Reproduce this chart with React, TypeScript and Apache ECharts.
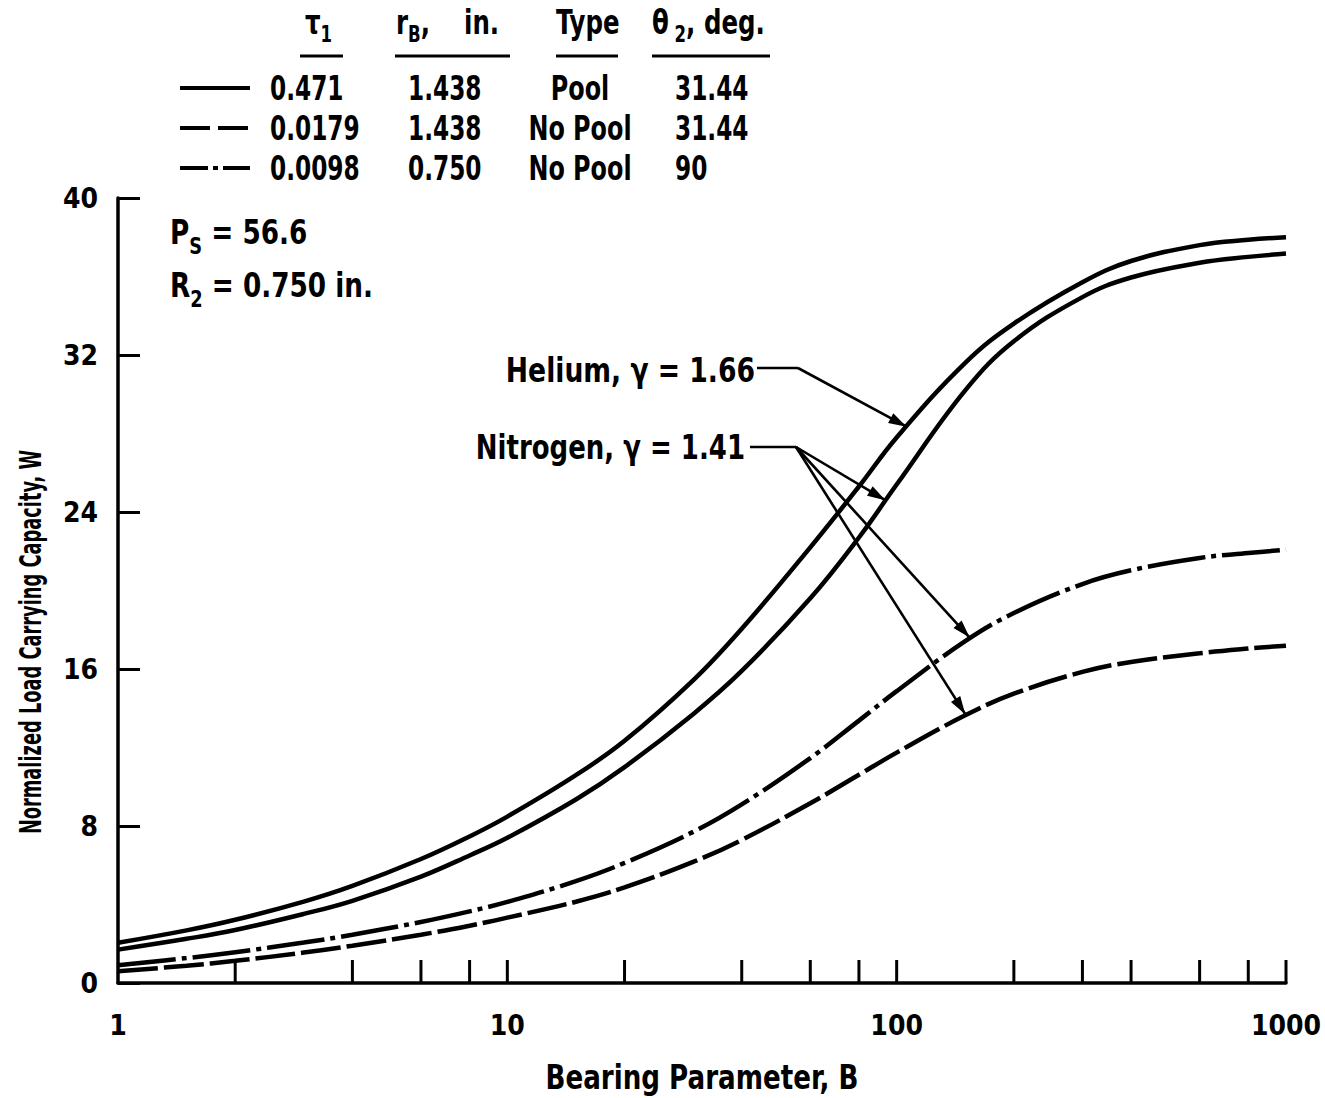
import React, { useEffect, useRef } from "react";
import * as echarts from "echarts";

// ---------- data ----------
const bValues = [1, 1.5, 2, 3, 4, 6, 8, 10, 15, 20, 30, 40, 60, 80, 100, 150, 200, 300, 400, 600, 800, 1000];
const heliumPool = [2.05, 2.68, 3.22, 4.15, 4.95, 6.32, 7.47, 8.48, 10.59, 12.34, 15.42, 18.05, 22.2, 25.3, 27.8, 31.6, 33.6, 35.71, 36.79, 37.6, 37.87, 38.0];
const nitrogenPool = [1.7, 2.25, 2.7, 3.52, 4.19, 5.42, 6.5, 7.4, 9.35, 11.0, 13.7, 15.9, 19.6, 22.7, 25.4, 30.2, 32.7, 34.95, 35.95, 36.7, 37.0, 37.17];
const nitrogenNoPool90 = [0.9, 1.27, 1.57, 2.06, 2.46, 3.11, 3.65, 4.13, 5.19, 6.12, 7.7, 9.1, 11.46, 13.37, 14.87, 17.42, 18.85, 20.33, 21.03, 21.66, 21.91, 22.08];
const nitrogenNoPool31 = [0.6, 0.88, 1.13, 1.55, 1.9, 2.46, 2.92, 3.33, 4.14, 4.87, 6.17, 7.29, 9.16, 10.61, 11.74, 13.64, 14.74, 15.85, 16.36, 16.8, 17.04, 17.19];

const xTickValues = [2, 4, 6, 8, 10, 20, 40, 60, 80, 100, 200, 300, 400, 600, 800, 1000];
const yTicks = { min: 0, max: 40, interval: 8 };

// legend table
const legendTau = ["0.471", "0.0179", "0.0098"];
const legendRB = ["1.438", "1.438", "0.750"];
const legendType = ["Pool", "No Pool", "No Pool"];
const legendTheta = ["31.44", "31.44", "90"];

// annotation anchors (data coords on curves)
const heliumTip = [106, 28.35];
const nitrogenTips = [
  [93.5, 24.6],
  [154, 17.6],
  [150, 13.7],
];

const FONT = "'DejaVu Sans Condensed', 'DejaVu Sans', sans-serif";
const DASHED = [40, 6];
const DASHDOT = [58, 6, 5, 6];

function zip(xs: number[], ys: number[]) {
  return xs.map((x, i) => [x, ys[i]]);
}

let measureCtx: CanvasRenderingContext2D | null = null;
function measure(text: string, size: number) {
  if (!measureCtx) measureCtx = document.createElement("canvas").getContext("2d");
  measureCtx!.font = `bold ${size}px ${FONT}`;
  return measureCtx!.measureText(text).width;
}

export default function App() {
  const ref = useRef<HTMLDivElement>(null);
  useEffect(() => {
    if (!ref.current) return;
    const chart = echarts.init(ref.current, null, { renderer: "svg" });
    const lineSeries = (name: string, data: number[], type: any) => ({
      name,
      type: "line",
      data: zip(bValues, data),
      smooth: 0.4,
      symbol: "none",
      lineStyle: { color: "#000", width: 4.5, type, cap: "butt" },
      z: 2,
    });
    chart.setOption({
      animation: false,
      backgroundColor: "#fff",
      grid: { left: 118, right: 39, top: 198, bottom: 115, outerBoundsMode: "none", containLabel: false },
      xAxis: {
        type: "log",
        logBase: 10,
        min: 1,
        max: 1000,
        axisLine: { lineStyle: { color: "#000", width: 3.5 } },
        axisTick: { show: false },
        splitLine: { show: false },
        axisLabel: {
          color: "#000",
          fontFamily: FONT,
          fontWeight: "bold",
          fontSize: 28,
          margin: 28,
          formatter: (v: number) => String(Math.round(v)),
        },
      },
      yAxis: {
        type: "value",
        min: yTicks.min,
        max: yTicks.max,
        interval: yTicks.interval,
        axisLine: { show: true, lineStyle: { color: "#000", width: 3.5 } },
        axisTick: { show: true, inside: true, length: 22, lineStyle: { color: "#000", width: 3 } },
        splitLine: { show: false },
        axisLabel: {
          color: "#000",
          fontFamily: FONT,
          fontWeight: "bold",
          fontSize: 28,
          margin: 20,
        },
      },
      series: [
        lineSeries("Helium, Pool, τ1 = 0.471", heliumPool, "solid"),
        lineSeries("Nitrogen, Pool, τ1 = 0.471", nitrogenPool, "solid"),
        lineSeries("Nitrogen, No Pool, τ1 = 0.0098", nitrogenNoPool90, DASHDOT),
        lineSeries("Nitrogen, No Pool, τ1 = 0.0179", nitrogenNoPool31, DASHED),
        {
          type: "custom",
          silent: true,
          clip: false,
          z: 3,
          data: xTickValues.map((v) => [v, 0]),
          renderItem: (params: any, api: any) => {
            const p = api.coord([api.value(0), 0]);
            return {
              type: "line",
              shape: { x1: p[0], y1: p[1], x2: p[0], y2: p[1] - 23 },
              style: { stroke: "#000", lineWidth: 3 },
            };
          },
        },
      ],
    });

    const toPx = (p: number[]) => chart.convertToPixel({ gridIndex: 0 }, p) as number[];
    const g: any[] = [];

    const text = (x: number, y: number, t: string, size: number, sx: number, align = "left", extra: any = {}) => {
      g.push({
        type: "text",
        x,
        y,
        scaleX: sx,
        ...extra,
        style: { text: t, fill: "#000", fontFamily: FONT, fontWeight: "bold", fontSize: size, align, verticalAlign: "middle" },
        z: 20,
      });
    };
    // sequence of [text, isSubscript] parts, left aligned at x, main text centred on y
    const seq = (x: number, y: number, parts: [string, boolean][], size: number, sx: number, subDy: number) => {
      let cx = x;
      parts.forEach(([t, sub]) => {
        const fs = sub ? Math.round(size * 0.68) : size;
        text(cx, sub ? y + subDy : y, t, fs, sx);
        cx += measure(t, fs) * sx;
      });
    };

    const arrow = (x1: number, y1: number, x2: number, y2: number) => {
      g.push({ type: "line", shape: { x1, y1, x2, y2 }, style: { stroke: "#000", lineWidth: 2.6 }, z: 10 });
      const ang = Math.atan2(y2 - y1, x2 - x1);
      const L = 18, W = 5.5;
      const bx = x2 - L * Math.cos(ang), by = y2 - L * Math.sin(ang);
      const nx = -Math.sin(ang), ny = Math.cos(ang);
      g.push({
        type: "polygon",
        shape: { points: [[x2, y2], [bx + nx * W, by + ny * W], [bx - nx * W, by - ny * W]] },
        style: { fill: "#000" },
        z: 10,
      });
    };

    // Helium annotation
    text(755, 370, "Helium, γ = 1.66", 34, 0.87, "right");
    g.push({ type: "line", shape: { x1: 757, y1: 368, x2: 798, y2: 368 }, style: { stroke: "#000", lineWidth: 2.6 } });
    const ht = toPx(heliumTip);
    arrow(798, 368, ht[0], ht[1]);

    // Nitrogen annotation
    text(745, 447, "Nitrogen, γ = 1.41", 34, 0.85, "right");
    g.push({ type: "line", shape: { x1: 750, y1: 447, x2: 796, y2: 447 }, style: { stroke: "#000", lineWidth: 2.6 } });
    nitrogenTips.forEach((t) => {
      const p = toPx(t);
      arrow(796, 447, p[0], p[1]);
    });

    // Ps and R2
    seq(170, 232, [["P", false], ["S", true], [" = 56.6", false]], 34, 0.86, 14);
    seq(170, 285, [["R", false], ["2", true], [" = 0.750 in.", false]], 34, 0.86, 14);

    // axis titles
    text(30, 642, "Normalized Load Carrying Capacity, W", 30, 0.66, "center", { rotation: Math.PI / 2 });
    text(702, 1077, "Bearing Parameter, B", 34, 0.855, "center");

    // Legend table headers
    seq(305, 22, [["τ", false], ["1", true]], 34, 0.8, 12);
    seq(396, 22, [["r", false], ["B", true], [",    in.", false]], 34, 0.8, 12);
    text(556, 22, "Type", 34, 0.8);
    seq(652, 22, [["θ", false], [" 2", true], [", deg.", false]], 34, 0.8, 12);
    [[300, 343], [395, 510], [556, 618], [652, 770]].forEach(([a, b]) => {
      g.push({ type: "line", shape: { x1: a, y1: 56, x2: b, y2: 56 }, style: { stroke: "#000", lineWidth: 3 } });
    });
    const rowY = [88, 128, 168];
    const dashes: any[] = [null, [30, 8], [28, 5, 5, 5, 28]];
    rowY.forEach((y, i) => {
      g.push({
        type: "line",
        shape: { x1: 180, y1: y, x2: 250, y2: y },
        style: { stroke: "#000", lineWidth: 4, lineDash: dashes[i] || undefined },
      });
      text(270, y, legendTau[i], 34, 0.76);
      text(408, y, legendRB[i], 34, 0.76);
      text(580, y, legendType[i], 34, 0.78, "center");
      text(675, y, legendTheta[i], 34, 0.76);
    });

    chart.setOption({ graphic: g });
    return () => chart.dispose();
  }, []);
  return (
    <div
      ref={ref}
      style={{ position: "fixed", left: 0, top: 0, width: 1325, height: 1098, background: "#fff" }}
    />
  );
}
